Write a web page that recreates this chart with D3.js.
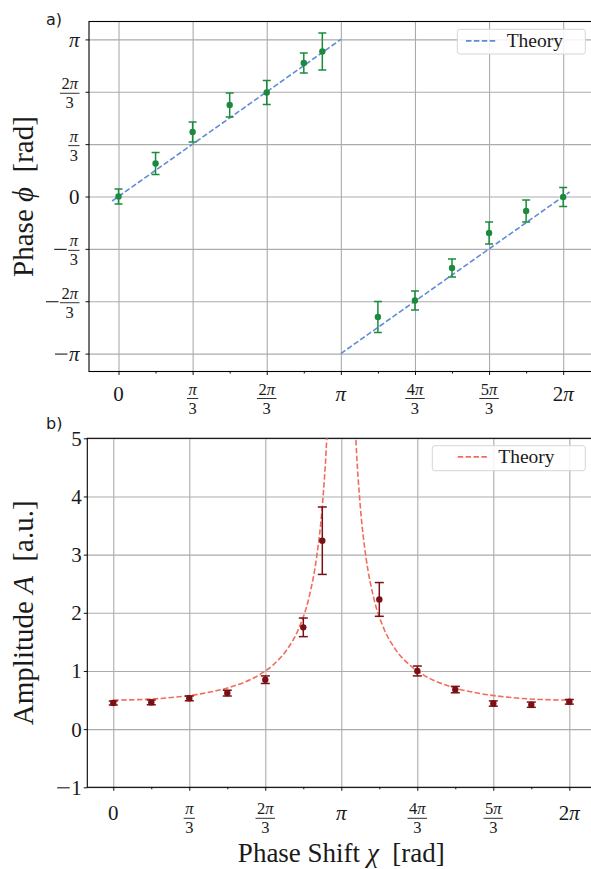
<!DOCTYPE html>
<html>
<head>
<meta charset="utf-8">
<script src="https://cdn.jsdelivr.net/npm/d3@7"></script>
<style>
  body { margin: 0; background: #fff; }
  svg { display: block; }
  text { font-family: "Liberation Serif", "DejaVu Serif", serif; fill: #1a1a1a; }
</style>
</head>
<body>
<div id="chart"></div>
<script>
const PI = Math.PI;

// measured phase shifts (same for both panels)
const chiPts = [0, PI / 6, PI / 3, PI / 2, 2 * PI / 3, 5 * PI / 6, 11 * PI / 12,
    7 * PI / 6, 4 * PI / 3, 3 * PI / 2, 5 * PI / 3, 11 * PI / 6, 2 * PI];

// panel a) phase
const phaseVals = [0.00, 0.66, 1.29, 1.83, 2.08, 2.67, 2.90, -2.41, -2.08, -1.43, -0.73, -0.29, -0.01];
const phaseErrs = [0.15, 0.22, 0.20, 0.24, 0.24, 0.20, 0.37, 0.31, 0.19, 0.18, 0.22, 0.22, 0.19];

// panel b) amplitude
const ampVals = [0.45, 0.46, 0.53, 0.62, 0.85, 1.75, 3.24, 2.23, 1.00, 0.68, 0.44, 0.42, 0.47];
const ampErrs = [0.035, 0.04, 0.04, 0.05, 0.065, 0.16, 0.58, 0.29, 0.085, 0.055, 0.045, 0.045, 0.04];

// theory, phase (two straight pieces)
const phaseTheoryChiA = [-0.09, PI];
const phaseTheoryA = [-0.09, PI];
const phaseTheoryChiB = [PI, 2 * PI + 0.09];
const phaseTheoryB = [-PI, 0.09];

// theory, amplitude (two branches either side of pi)
const ampTheoryChiA = [0, 0.4, 0.8, 1.2, 1.6, 2.0, 2.2, 2.4, 2.55, 2.7, 2.8, 2.88, 2.94, 2.98];
const ampTheoryA = [0.5, 0.510, 0.543, 0.606, 0.718, 0.925, 1.102, 1.380, 1.714, 2.283, 2.942, 3.834, 4.969, 6.195];
const ampTheoryChiB = [3.303, 3.343, 3.403, 3.483, 3.583, 3.733, 3.883, 4.083, 4.283, 4.683, 5.083, 5.483, 5.883, 6.283];
const ampTheoryB = [6.195, 4.969, 3.834, 2.942, 2.283, 1.714, 1.380, 1.102, 0.925, 0.718, 0.606, 0.543, 0.510, 0.5];

// ticks
const xTickVals = [0, PI / 3, 2 * PI / 3, PI, 4 * PI / 3, 5 * PI / 3, 2 * PI];
const xTickLabels = ['0', 'π/3', '2π/3', 'π', '4π/3', '5π/3', '2π'];
const xMinorVals = [PI / 6, PI / 2, 5 * PI / 6, 7 * PI / 6, 3 * PI / 2, 11 * PI / 6];
const phaseTickVals = [-PI, -2 * PI / 3, -PI / 3, 0, PI / 3, 2 * PI / 3, PI];
const phaseTickLabels = ['−π', '−2π/3', '−π/3', '0', 'π/3', '2π/3', 'π'];
const ampTickVals = [-1, 0, 1, 2, 3, 4, 5];
const ampTickLabels = ['−1', '0', '1', '2', '3', '4', '5'];

const W = 591, H = 869;
const svg = d3.select('#chart').append('svg').attr('width', W).attr('height', H);

const gridColor = '#ababab';
const tickFont = 21, fracFont = 16.5;

// writes a string into a text element, pi in italic
function fillMath(t, s) {
    s.split(/(π)/).filter(p => p.length).forEach(p => {
        const ts = t.append('tspan').text(p);
        if (p === 'π') ts.style('font-style', 'italic');
    });
}

// tick label with optional minus sign and fraction
function mathLabel(parent, str, cx, cy, align, o) {
    const g = parent.append('g');
    const neg = str.startsWith('−');
    const body = neg ? str.slice(1) : str;
    const [num, den] = body.split('/');
    let x = 0;
    if (neg) {
        g.append('line').attr('x1', 0).attr('x2', 12.5)
            .attr('y1', o.minus).attr('y2', o.minus)
            .attr('stroke', '#1a1a1a').attr('stroke-width', 1.1);
        x = 14;
    }
    if (den) {
        const tn = g.append('text').attr('font-size', fracFont).attr('text-anchor', 'middle');
        fillMath(tn, num);
        const td = g.append('text').attr('font-size', fracFont).attr('text-anchor', 'middle');
        fillMath(td, den);
        const wb = Math.max(tn.node().getComputedTextLength(), td.node().getComputedTextLength()) + 3;
        const mid = x + wb / 2;
        tn.attr('x', mid).attr('y', o.bar - 4);
        td.attr('x', mid).attr('y', o.bar + 15);
        g.append('line').attr('x1', x).attr('x2', x + wb)
            .attr('y1', o.bar).attr('y2', o.bar)
            .attr('stroke', '#1a1a1a').attr('stroke-width', 0.9);
        x += wb;
    } else {
        const t = g.append('text').attr('font-size', tickFont).attr('x', x).attr('y', o.single);
        fillMath(t, num);
        x += t.node().getComputedTextLength();
    }
    const dx = align === 'middle' ? cx - x / 2 : cx - x;
    g.attr('transform', `translate(${dx},${cy})`);
}

function panel(cfg) {
    const x = d3.scaleLinear().domain(cfg.xDomain).range([cfg.left, cfg.right]);
    const y = d3.scaleLinear().domain(cfg.yDomain).range([cfg.bottom, cfg.top]);
    const g = svg.append('g');
    const h = cfg.bottom - cfg.top;
    const w = cfg.right - cfg.left;

    // grid
    g.append('g')
        .attr('transform', `translate(0,${cfg.bottom})`)
        .call(d3.axisBottom(x).tickValues(xTickVals).tickSize(-h).tickFormat(''))
        .call(a => a.select('.domain').remove())
        .call(a => a.selectAll('line').attr('stroke', gridColor).attr('stroke-width', 1.1));
    g.append('g')
        .attr('transform', `translate(${cfg.left},0)`)
        .call(d3.axisLeft(y).tickValues(cfg.yTicks).tickSize(-w).tickFormat(''))
        .call(a => a.select('.domain').remove())
        .call(a => a.selectAll('line').attr('stroke', gridColor).attr('stroke-width', 1.1));

    // ticks
    g.append('g')
        .attr('transform', `translate(0,${cfg.bottom})`)
        .call(d3.axisBottom(x).tickValues(xTickVals).tickSize(3.5).tickFormat(''))
        .call(a => a.select('.domain').remove());
    g.append('g')
        .attr('transform', `translate(0,${cfg.bottom})`)
        .call(d3.axisBottom(x).tickValues(xMinorVals).tickSize(2).tickFormat(''))
        .call(a => a.select('.domain').remove());
    g.append('g')
        .attr('transform', `translate(${cfg.left},0)`)
        .call(d3.axisLeft(y).tickValues(cfg.yTicks).tickSize(3.5).tickFormat(''))
        .call(a => a.select('.domain').remove());
    g.selectAll('.tick line').filter(function () {
        return this.getAttribute('stroke') === 'currentColor';
    }).attr('stroke', '#111').attr('stroke-width', 1);

    // tick labels
    xTickVals.forEach((v, i) => {
        mathLabel(g, xTickLabels[i], x(v), cfg.bottom, 'middle', cfg.xLab);
    });
    cfg.yTicks.forEach((v, i) => {
        mathLabel(g, cfg.yLabels[i], cfg.yLabRight, y(v), 'end', cfg.yLab);
    });

    // frame
    g.append('rect')
        .attr('x', cfg.left).attr('y', cfg.top).attr('width', w).attr('height', h)
        .attr('fill', 'none').attr('stroke', '#000').attr('stroke-width', 1.1);

    const clipId = 'clip' + cfg.name;
    svg.append('clipPath').attr('id', clipId).append('rect')
        .attr('x', cfg.left).attr('y', cfg.top).attr('width', w).attr('height', h);
    const plot = g.append('g').attr('clip-path', `url(#${clipId})`);

    // theory
    const line = d3.line().x(d => x(d[0])).y(d => y(d[1])).curve(d3.curveMonotoneX);
    cfg.theory.forEach(seg => {
        plot.append('path')
            .datum(d3.zip(seg[0], seg[1]))
            .attr('d', line)
            .attr('fill', 'none')
            .attr('stroke', cfg.theoryColor)
            .attr('stroke-width', 1.6)
            .attr('stroke-dasharray', '5.5,2.4');
    });

    // error bars
    const pts = chiPts.map((c, i) => ({ c, v: cfg.vals[i], e: cfg.errs[i] }));
    const eb = plot.append('g').attr('stroke', cfg.color).attr('stroke-width', 1.5);
    pts.forEach(p => {
        const px = x(p.c);
        eb.append('line').attr('x1', px).attr('x2', px)
            .attr('y1', y(p.v - p.e)).attr('y2', y(p.v + p.e));
        [p.v - p.e, p.v + p.e].forEach(yy => {
            eb.append('line').attr('x1', px - cfg.cap).attr('x2', px + cfg.cap)
                .attr('y1', y(yy)).attr('y2', y(yy));
        });
    });
    plot.append('g').selectAll('circle')
        .data(pts)
        .enter()
        .append('circle')
        .attr('cx', d => x(d.c))
        .attr('cy', d => y(d.v))
        .attr('r', 3.2)
        .attr('fill', cfg.color);

    // legend
    const L = cfg.legend;
    g.append('rect')
        .attr('x', L.x).attr('y', L.y).attr('width', L.w).attr('height', L.h)
        .attr('rx', 2.5)
        .attr('fill', '#fff').attr('fill-opacity', 0.85)
        .attr('stroke', '#d6d6d6').attr('stroke-width', 1);
    g.append('line')
        .attr('x1', L.lx0).attr('x2', L.lx1).attr('y1', L.ly).attr('y2', L.ly)
        .attr('stroke', cfg.theoryColor).attr('stroke-width', 1.6)
        .attr('stroke-dasharray', '5.5,2.4');
    g.append('text')
        .attr('x', L.tx).attr('y', L.ty)
        .attr('font-size', 19.5)
        .text('Theory');

    // y label
    const yl = svg.append('text')
        .attr('transform', `translate(33,${(cfg.top + cfg.bottom) / 2}) rotate(-90)`)
        .attr('text-anchor', 'middle')
        .attr('font-size', 29)
        .style('white-space', 'pre');
    yl.append('tspan').text(cfg.yTitle[0]);
    yl.append('tspan').style('font-style', 'italic').text(cfg.yTitle[1]);
    yl.append('tspan').text(cfg.yTitle[2]);

    // panel tag
    svg.append('text')
        .attr('x', 46).attr('y', cfg.tagY)
        .attr('font-size', 16)
        .style('font-family', '"DejaVu Sans", sans-serif')
        .text(cfg.name + ')');

    return { x, y };
}

panel({
    name: 'a',
    left: 89, right: 592.7, top: 21.5, bottom: 371.5,
    xDomain: [-0.417, 2 * PI + 0.417], yDomain: [-3.5, 3.5],
    yTicks: phaseTickVals, yLabels: phaseTickLabels,
    xLab: { single: 29, bar: 27, minus: 0 },
    yLab: { single: 7.5, bar: 1.5, minus: 0.5 },
    yLabRight: 79.5,
    vals: phaseVals, errs: phaseErrs,
    color: '#1b8a3c', cap: 4,
    theory: [[phaseTheoryChiA, phaseTheoryA], [phaseTheoryChiB, phaseTheoryB]],
    theoryColor: '#5f8cd6',
    legend: { x: 457.3, y: 29.3, w: 128, h: 24.7, lx0: 466, lx1: 496.7, ly: 40.9, tx: 506.7, ty: 47 },
    yTitle: ['Phase ', 'ϕ', '  [rad]'],
    tagY: 25
});

panel({
    name: 'b',
    left: 87.3, right: 595.3, top: 438.3, bottom: 787.3,
    xDomain: [-0.358, 2 * PI + 0.358], yDomain: [-1, 5],
    yTicks: ampTickVals, yLabels: ampTickLabels,
    xLab: { single: 33, bar: 31, minus: 0 },
    yLab: { single: 7.5, bar: 1.5, minus: 0.5 },
    yLabRight: 81.7,
    vals: ampVals, errs: ampErrs,
    color: '#7a0f14', cap: 4.5,
    theory: [[ampTheoryChiA, ampTheoryA], [ampTheoryChiB, ampTheoryB]],
    theoryColor: '#f26c5a',
    legend: { x: 432.3, y: 445.7, w: 153, h: 25, lx0: 457.7, lx1: 488.3, ly: 456.9, tx: 498.3, ty: 463 },
    yTitle: ['Amplitude ', 'A', '  [a.u.]'],
    tagY: 429
});

// shared x label
const xl = svg.append('text')
    .attr('x', 341.3).attr('y', 862)
    .attr('text-anchor', 'middle')
    .attr('font-size', 27)
    .style('white-space', 'pre');
xl.append('tspan').text('Phase Shift ');
xl.append('tspan').style('font-style', 'italic').text('χ');
xl.append('tspan').text('  [rad]');
</script>
</body>
</html>
